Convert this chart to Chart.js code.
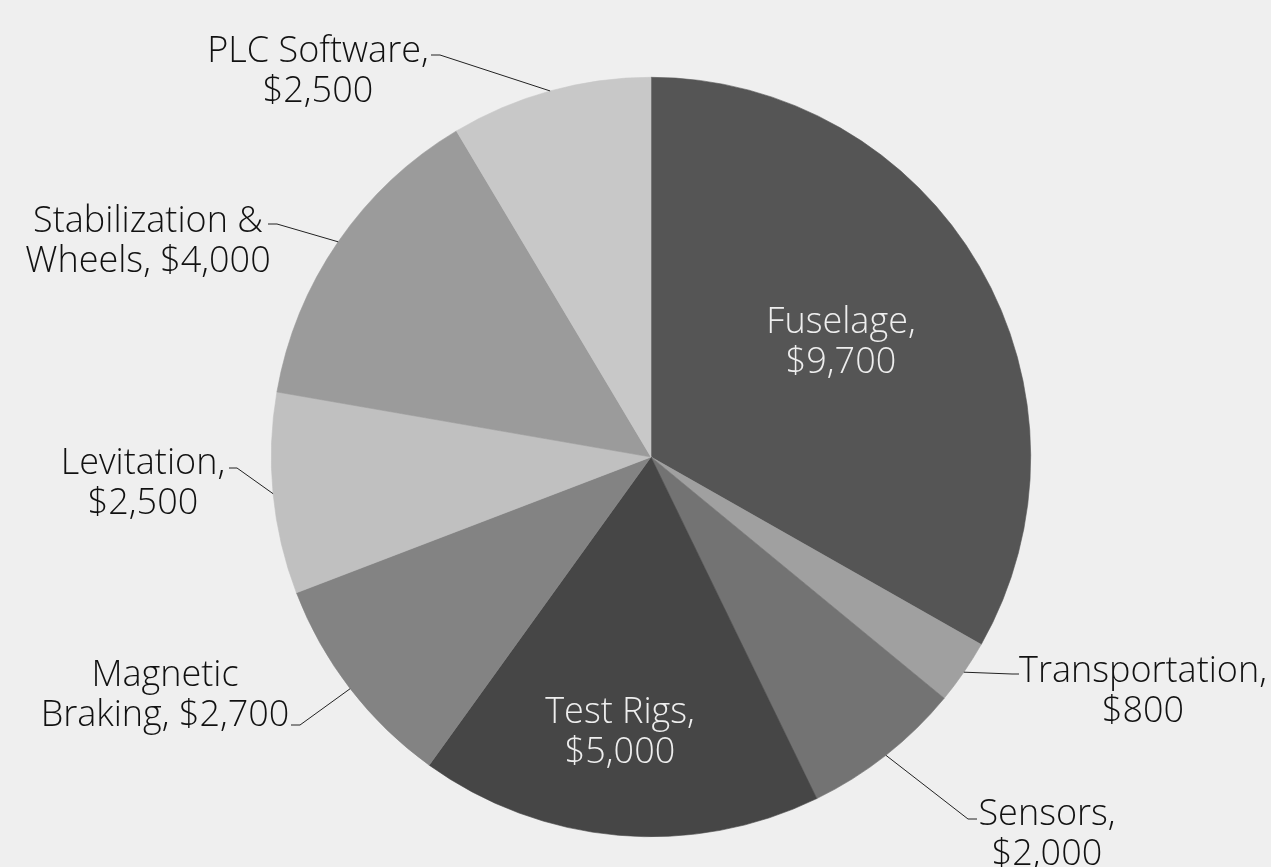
<!DOCTYPE html>
<html>
<head>
<meta charset="utf-8">
<script src="https://cdn.jsdelivr.net/npm/chart.js@4"></script>
<style>
  html, body { margin: 0; padding: 0; background: #efefef; }
  canvas { display: block; }
</style>
</head>
<body>
<canvas id="pie" width="1271" height="867"></canvas>
<script>
// budget items, in the order the slices go round (clockwise from the top)
const categories = ['Fuselage', 'Transportation', 'Sensors', 'Test Rigs',
  'Magnetic Braking', 'Levitation', 'Stabilization & Wheels', 'PLC Software'];
const costs = [9700, 800, 2000, 5000, 2700, 2500, 4000, 2500];
const greys = ['#555555', '#a0a0a0', '#737373', '#464646',
  '#838383', '#c0c0c0', '#9b9b9b', '#c8c8c8'];
// how each label is broken into lines
const labelText = [
  ['Fuselage,', '$9,700'],
  ['Transportation,', '$800'],
  ['Sensors,', '$2,000'],
  ['Test Rigs,', '$5,000'],
  ['Magnetic', 'Braking, $2,700'],
  ['Levitation,', '$2,500'],
  ['Stabilization &', 'Wheels, $4,000'],
  ['PLC Software,', '$2,500']
];

// where the text sits (centre x, first baseline) and where the leader bends
const labelPlace = [
  { x: 841, y: 333, inside: true },
  { x: 1143, y: 682, elbow: [1012, 674], tail: 1019 },
  { x: 1047, y: 825, elbow: [968, 819], tail: 977 },
  { x: 620, y: 723, inside: true },
  { x: 165, y: 686, elbow: [300, 725], tail: 291 },
  { x: 143, y: 474, elbow: [237, 468], tail: 229 },
  { x: 148, y: 232, elbow: [277, 224], tail: 268 },
  { x: 318, y: 62, elbow: [440, 55], tail: 431 }
];

const FONT = '300 36px "Open Sans"';
const LINE_H = 40;

const pieLabels = {
  id: 'pieLabels',
  afterDatasetsDraw(chart) {
    const ctx = chart.ctx;
    const arcs = chart.getDatasetMeta(0).data;
    ctx.save();
    ctx.font = FONT;
    ctx.textAlign = 'center';
    ctx.textBaseline = 'alphabetic';
    arcs.forEach((arc, i) => {
      const p = labelPlace[i];
      if (!p.inside) {
        const { x, y, startAngle, endAngle, outerRadius } = arc.getProps(
          ['x', 'y', 'startAngle', 'endAngle', 'outerRadius'], true);
        const mid = (startAngle + endAngle) / 2;
        ctx.beginPath();
        ctx.moveTo(x + Math.cos(mid) * outerRadius, y + Math.sin(mid) * outerRadius);
        ctx.lineTo(p.elbow[0], p.elbow[1]);
        ctx.lineTo(p.tail, p.elbow[1]);
        ctx.strokeStyle = '#222222';
        ctx.lineWidth = 1;
        ctx.stroke();
      }
      ctx.fillStyle = p.inside ? '#eeeeee' : '#111111';
      labelText[i].forEach((line, k) => {
        ctx.fillText(line, p.x, p.y + k * LINE_H);
      });
    });
    ctx.restore();
  }
};

function draw() {
  new Chart(document.getElementById('pie'), {
    type: 'pie',
    data: {
      labels: categories,
      datasets: [{
        data: costs,
        backgroundColor: greys,
        borderColor: greys,
        borderWidth: 0.6
      }]
    },
    options: {
      responsive: false,
      animation: false,
      layout: { padding: { left: 271, right: 240, top: 77, bottom: 30 } },
      plugins: {
        legend: { display: false },
        tooltip: { enabled: false }
      }
    },
    plugins: [pieLabels]
  });
}

if (document.fonts && document.fonts.load) {
  document.fonts.load(FONT).then(draw, draw);
} else {
  draw();
}
</script>
</body>
</html>
